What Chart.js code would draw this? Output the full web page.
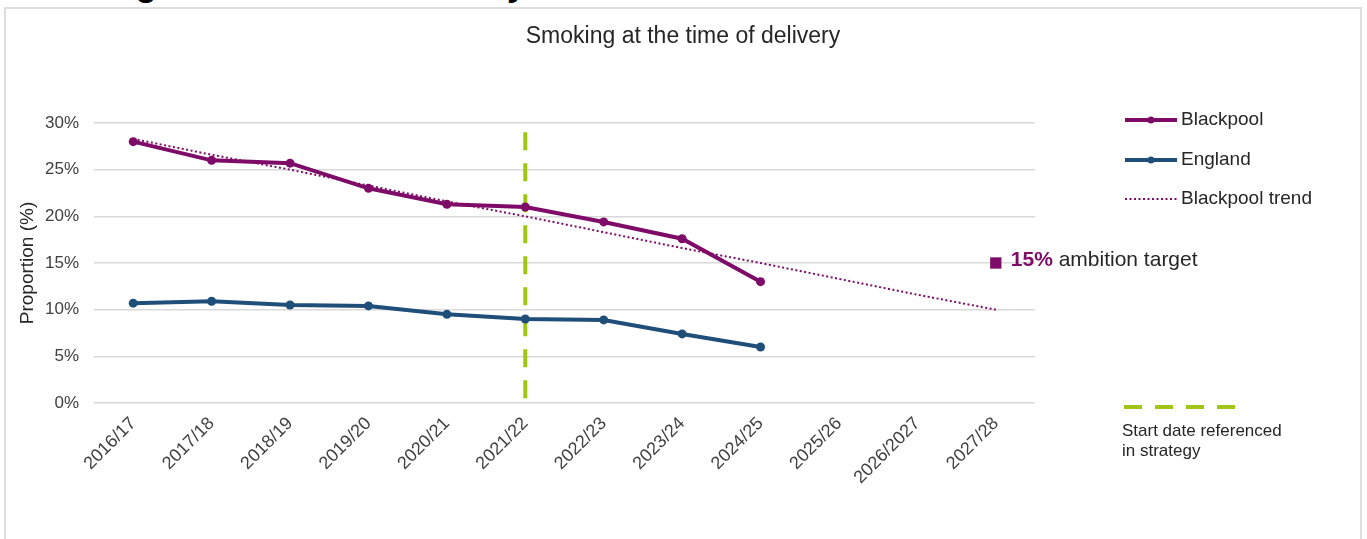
<!DOCTYPE html>
<html>
<head>
<meta charset="utf-8">
<title>Smoking at the time of delivery</title>
<script src="https://cdn.jsdelivr.net/npm/chart.js@4.4.1/dist/chart.umd.min.js"></script>
<style>
  html, body { margin: 0; padding: 0; background: #ffffff; width: 1367px; height: 539px; overflow: hidden; position: relative; }
  #heading { position: absolute; left: 9px; top: -34px; font: bold 35px/35px "Liberation Sans", Arial, sans-serif; color: #000000; white-space: nowrap; }
  #frame { position: absolute; left: 4px; top: 7px; width: 1358px; height: 600px; border: 2px solid #dedede; box-sizing: border-box; }
  #chart { position: absolute; left: 0; top: 0; }
</style>
</head>
<body>
<div id="heading">Smoking at the time of delivery</div>
<div id="frame"></div>
<canvas id="chart" width="1367" height="539"></canvas>
<script>
// Financial years on the category axis
const categories = ['2016/17', '2017/18', '2018/19', '2019/20', '2020/21', '2021/22',
                    '2022/23', '2023/24', '2024/25', '2025/26', '2026/2027', '2027/28'];

// Proportion of mothers smoking at the time of delivery (%)
const blackpool = [28.0, 26.0, 25.7, 23.0, 21.3, 21.0, 19.4, 17.6, 13.0, null, null, null];
const england   = [10.7, 10.9, 10.5, 10.4, 9.5, 9.0, 8.9, 7.4, 6.0, null, null, null];
const blackpoolTrend = [28.3, 26.6, 25.0, 23.3, 21.6, 20.0, 18.3, 16.6, 15.0, 13.3, 11.6, 10.0];

// Y axis ticks (%)
const yTicks = [0, 5, 10, 15, 20, 25, 30];

// Ambition target and strategy start marker
const ambitionTarget = 15;
const ambitionYear = '2027/28';
const strategyStartYear = '2021/22';
const strategyLineTop = 29;

const chartTitle = 'Smoking at the time of delivery';

const FONT = '"Liberation Sans", Arial, sans-serif';
const PURPLE = '#7E0B68';
const BLUE = '#1F4E79';
const GREEN = '#A2C515';
const TEXT = '#262626';
const TICK = '#404040';

const targetSeries = categories.map(c => (c === ambitionYear ? ambitionTarget : null));

// Title centred across the whole frame
const frameTitle = {
  id: 'frameTitle',
  afterDraw(chart) {
    const { ctx } = chart;
    ctx.save();
    ctx.font = '23px ' + FONT;
    ctx.fillStyle = TEXT;
    ctx.textAlign = 'center';
    ctx.textBaseline = 'middle';
    ctx.fillText(chartTitle, 683, 37);
    ctx.restore();
  }
};

// Dashed vertical line marking the start year of the strategy
const strategyLine = {
  id: 'strategyLine',
  beforeDatasetsDraw(chart) {
    const { ctx, scales: { x, y } } = chart;
    const px = x.getPixelForValue(categories.indexOf(strategyStartYear));
    ctx.save();
    ctx.strokeStyle = GREEN;
    ctx.lineWidth = 4;
    ctx.setLineDash([18, 13]);
    ctx.beginPath();
    ctx.moveTo(px, y.getPixelForValue(strategyLineTop));
    ctx.lineTo(px, y.getPixelForValue(0));
    ctx.stroke();
    ctx.restore();
  }
};

// Label beside the ambition target marker
const targetLabel = {
  id: 'targetLabel',
  afterDatasetsDraw(chart) {
    const { ctx, scales: { x, y } } = chart;
    const px = x.getPixelForValue(categories.indexOf(ambitionYear)) + 15;
    const py = y.getPixelForValue(ambitionTarget) - 3;
    ctx.save();
    ctx.textBaseline = 'middle';
    ctx.textAlign = 'left';
    ctx.font = 'bold 21px ' + FONT;
    ctx.fillStyle = PURPLE;
    const boldText = ambitionTarget + '%';
    ctx.fillText(boldText, px, py);
    const w = ctx.measureText(boldText).width;
    ctx.font = '21px ' + FONT;
    ctx.fillStyle = TEXT;
    ctx.fillText(' ambition target', px + w, py);
    ctx.restore();
  }
};

// Legend on the right-hand side
const sideLegend = {
  id: 'sideLegend',
  afterDraw(chart) {
    const { ctx } = chart;
    const items = [
      { text: 'Blackpool', color: PURPLE, width: 4, dash: [], marker: true, y: 120 },
      { text: 'England', color: BLUE, width: 4, dash: [], marker: true, y: 160 },
      { text: 'Blackpool trend', color: PURPLE, width: 2, dash: [2, 2.5], marker: false, y: 199 }
    ];
    ctx.save();
    items.forEach(it => {
      ctx.strokeStyle = it.color;
      ctx.lineWidth = it.width;
      ctx.setLineDash(it.dash);
      ctx.beginPath();
      ctx.moveTo(1125, it.y);
      ctx.lineTo(1177, it.y);
      ctx.stroke();
      if (it.marker) {
        ctx.fillStyle = it.color;
        ctx.beginPath();
        ctx.arc(1151, it.y, 3.5, 0, Math.PI * 2);
        ctx.fill();
      }
      ctx.fillStyle = TEXT;
      ctx.font = '19px ' + FONT;
      ctx.textBaseline = 'middle';
      ctx.textAlign = 'left';
      ctx.fillText(it.text, 1181, it.y);
    });
    // strategy start key
    ctx.strokeStyle = GREEN;
    ctx.lineWidth = 4;
    ctx.setLineDash([18, 13]);
    ctx.beginPath();
    ctx.moveTo(1124, 407);
    ctx.lineTo(1236, 407);
    ctx.stroke();
    ctx.setLineDash([]);
    ctx.fillStyle = TEXT;
    ctx.font = '17px ' + FONT;
    ctx.textBaseline = 'middle';
    ctx.fillText('Start date referenced', 1122, 431);
    ctx.fillText('in strategy', 1122, 451);
    ctx.restore();
  }
};

new Chart(document.getElementById('chart'), {
  type: 'line',
  data: {
    labels: categories,
    datasets: [
      {
        label: 'Blackpool', data: blackpool,
        borderColor: PURPLE, backgroundColor: PURPLE, borderWidth: 4,
        pointRadius: 4.5, pointBorderWidth: 0, pointBackgroundColor: PURPLE
      },
      {
        label: 'England', data: england,
        borderColor: BLUE, backgroundColor: BLUE, borderWidth: 4,
        pointRadius: 4.5, pointBorderWidth: 0, pointBackgroundColor: BLUE
      },
      {
        label: 'Blackpool trend', data: blackpoolTrend,
        borderColor: PURPLE, borderWidth: 2, borderDash: [2, 2.5], pointRadius: 0
      },
      {
        label: 'Ambition target', data: targetSeries,
        showLine: false, pointStyle: 'rect', pointRadius: 8, pointBorderWidth: 0,
        pointBackgroundColor: PURPLE, borderColor: PURPLE
      }
    ]
  },
  options: {
    responsive: false,
    animation: false,
    devicePixelRatio: 1,
    layout: { padding: { left: 0, right: 332, top: 123, bottom: 0 } },
    plugins: {
      legend: { display: false },
      tooltip: { enabled: false },
      title: { display: false }
    },
    scales: {
      x: {
        offset: true,
        grid: { display: false, drawTicks: false },
        border: { display: false },
        ticks: {
          autoSkip: false, minRotation: 45, maxRotation: 45, padding: 10,
          color: TICK, font: { family: FONT, size: 18 }
        },
        afterFit(scale) { scale.height = 136; }
      },
      y: {
        min: 0, max: 30,
        grid: { color: '#d9d9d9', lineWidth: 1.5, drawTicks: false },
        border: { display: false },
        afterBuildTicks(scale) { scale.ticks = yTicks.map(v => ({ value: v })); },
        ticks: {
          padding: 15, color: TICK, font: { family: FONT, size: 17 },
          callback: v => v + '%'
        },
        title: {
          display: true, text: 'Proportion (%)', color: TEXT,
          font: { family: FONT, size: 19 }, padding: { top: 16.6, bottom: 0 }
        },
        afterFit(scale) { scale.width = 94; }
      }
    }
  },
  plugins: [strategyLine, targetLabel, sideLegend, frameTitle]
});
</script>
</body>
</html>
